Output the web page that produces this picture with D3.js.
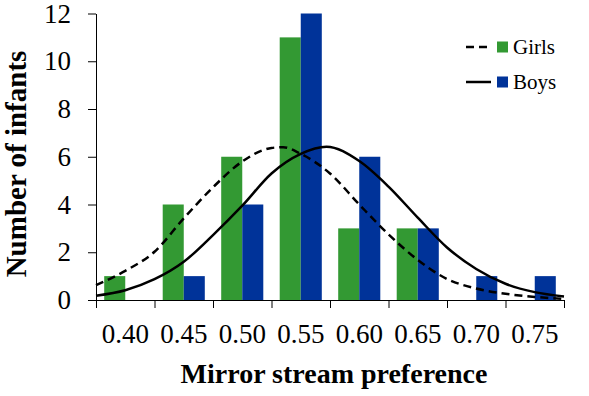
<!DOCTYPE html>
<html>
<head>
<meta charset="utf-8">
<script src="https://cdn.jsdelivr.net/npm/d3@7"></script>
<style>
  body { margin: 0; background: #fff; }
  .axis text { font-family: "Liberation Serif", "Times New Roman", serif; font-size: 27px; fill: #000; }
  .axis path, .axis line { stroke: #000; }
</style>
</head>
<body>
<script>
// Width and height
var w = 589;
var h = 396;
var margin = {left: 96, right: 25, top: 13.5, bottom: 96};

// Data
var bins = ["0.40", "0.45", "0.50", "0.55", "0.60", "0.65", "0.70", "0.75"];
var girls = [1, 4, 6, 11, 3, 3, 0, 0];
var boys = [0, 1, 4, 12, 6, 3, 1, 1];
var yTicks = [0, 2, 4, 6, 8, 10, 12];
var binEdges = [0.375, 0.425, 0.475, 0.525, 0.575, 0.625, 0.675, 0.725, 0.775];

// fitted curves: [preference, infants]
var girlsCurve = [[0.375, 0.62], [0.40, 1.22], [0.425, 2.02], [0.45, 3.42], [0.475, 4.72],
  [0.50, 5.80], [0.525, 6.37], [0.535, 6.40], [0.55, 6.12], [0.575, 5.30], [0.60, 4.00],
  [0.625, 2.75], [0.65, 1.68], [0.675, 0.88], [0.70, 0.48], [0.725, 0.26], [0.75, 0.13], [0.775, 0.05]];
var boysCurve = [[0.375, 0.18], [0.40, 0.41], [0.425, 0.87], [0.45, 1.60], [0.475, 2.72],
  [0.50, 3.95], [0.525, 5.30], [0.55, 6.12], [0.572, 6.42], [0.60, 5.82], [0.625, 4.75],
  [0.65, 3.45], [0.675, 2.20], [0.70, 1.30], [0.725, 0.68], [0.75, 0.33], [0.775, 0.15]];

var green = "#339933";
var blue = "#003399";

// Scales
var xBand = d3.scaleBand()
    .domain(bins)
    .range([margin.left, w - margin.right]);

var xSub = d3.scaleBand()
    .domain(["girls", "boys"])
    .range([0, xBand.bandwidth()])
    .paddingOuter(0.39);

var xLin = d3.scaleLinear()
    .domain([binEdges[0], binEdges[binEdges.length - 1]])
    .range([margin.left, w - margin.right]);

var yScale = d3.scaleLinear()
    .domain([0, 12])
    .range([h - margin.bottom, margin.top]);

// SVG
var svg = d3.select("body")
    .append("svg")
    .attr("width", w)
    .attr("height", h);

// Bars
var groups = svg.selectAll("g.bin")
    .data(bins)
    .enter()
    .append("g")
    .attr("class", "bin")
    .attr("transform", function(d) { return "translate(" + xBand(d) + ",0)"; });

groups.append("rect")
    .attr("x", xSub("girls"))
    .attr("width", xSub.bandwidth())
    .attr("y", function(d, i) { return yScale(girls[i]); })
    .attr("height", function(d, i) { return yScale(0) - yScale(girls[i]); })
    .attr("fill", green);

groups.append("rect")
    .attr("x", xSub("boys"))
    .attr("width", xSub.bandwidth())
    .attr("y", function(d, i) { return yScale(boys[i]); })
    .attr("height", function(d, i) { return yScale(0) - yScale(boys[i]); })
    .attr("fill", blue);

// Curves
var line = d3.line()
    .x(function(d) { return xLin(d[0]); })
    .y(function(d) { return yScale(d[1]); })
    .curve(d3.curveMonotoneX);

svg.append("path")
    .datum(girlsCurve)
    .attr("d", line)
    .attr("fill", "none")
    .attr("stroke", "#000")
    .attr("stroke-width", 2.5)
    .attr("stroke-dasharray", "8,5");

svg.append("path")
    .datum(boysCurve)
    .attr("d", line)
    .attr("fill", "none")
    .attr("stroke", "#000")
    .attr("stroke-width", 2.5);

// Axes
svg.append("g").attr("class", "axis")
    .attr("transform", `translate(0, ${h - margin.bottom})`)
    .call(d3.axisBottom(xLin).tickValues(binEdges).tickFormat("").tickSize(8).tickSizeOuter(0));

svg.append("g").attr("class", "axis")
    .attr("transform", `translate(0, ${h - margin.bottom})`)
    .call(d3.axisBottom(xBand).tickSize(0).tickPadding(24))
    .call(function(g) { g.select(".domain").remove(); });

svg.append("g").attr("class", "axis")
    .attr("transform", `translate(${margin.left}, 0)`)
    .call(d3.axisLeft(yScale).tickValues(yTicks).tickSize(8).tickSizeOuter(0).tickPadding(17));

// Axis titles
svg.append("text")
    .attr("x", 334)
    .attr("y", 383)
    .attr("text-anchor", "middle")
    .style("font-family", "Liberation Serif, serif")
    .style("font-weight", "bold")
    .style("font-size", "28px")
    .text("Mirror stream preference");

svg.append("text")
    .attr("transform", "translate(26,164) rotate(-90)")
    .attr("text-anchor", "middle")
    .style("font-family", "Liberation Serif, serif")
    .style("font-weight", "bold")
    .style("font-size", "29px")
    .text("Number of infants");

// Legend
var legend = [
  {name: "Girls", color: green, dash: "8,5"},
  {name: "Boys", color: blue, dash: null}
];
var lg = svg.selectAll("g.legend")
    .data(legend)
    .enter()
    .append("g")
    .attr("class", "legend")
    .attr("transform", function(d, i) { return "translate(466," + (47 + i * 35) + ")"; });

lg.append("line")
    .attr("x1", 0).attr("x2", 25)
    .attr("stroke", "#000")
    .attr("stroke-width", 2.5)
    .attr("stroke-dasharray", function(d) { return d.dash; });

lg.append("rect")
    .attr("x", 31).attr("y", -5.5)
    .attr("width", 11).attr("height", 11)
    .attr("fill", function(d) { return d.color; });

lg.append("text")
    .attr("x", 47).attr("y", 7)
    .style("font-family", "Liberation Serif, serif")
    .style("font-size", "21px")
    .text(function(d) { return d.name; });
</script>
</body>
</html>
